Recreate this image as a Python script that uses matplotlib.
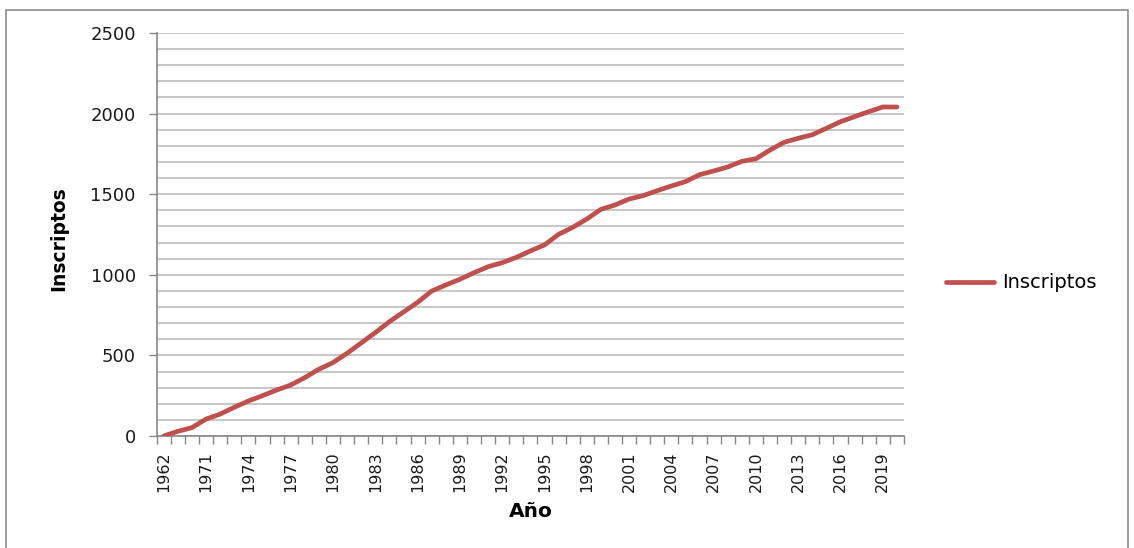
import numpy as np
import matplotlib
matplotlib.use("Agg")
import matplotlib.pyplot as plt
from matplotlib.patches import Rectangle

# Inscriptos acumulados por año
years = ["1962", "1965", "1968"] + [str(y) for y in range(1971, 2021)]
inscriptos = [0, 29, 52, 105, 136, 178, 217, 250, 285, 316,
              362, 414, 455, 513, 577, 641, 709, 769, 829, 899,
              937, 972, 1013, 1050, 1075, 1108, 1148, 1185, 1251, 1294,
              1346, 1406, 1433, 1470, 1491, 1522, 1551, 1578, 1621, 1644,
              1669, 1704, 1720, 1774, 1822, 1847, 1869, 1909, 1950, 1981,
              2012, 2041, 2041]

W, H = 1134, 548
fig = plt.figure(figsize=(W / 100, H / 100), dpi=100)
ax = fig.add_axes([156.7 / W, 1 - 436 / H, (904 - 156.7) / W, (436 - 33) / H])

x = np.arange(len(years))
ax.plot(x, inscriptos, color="#C0504D", lw=3.4, solid_capstyle="round",
        solid_joinstyle="round", label="Inscriptos", zorder=3)

ax.set_xlim(-0.5, len(years) - 0.5)
ax.set_ylim(0, 2500)

# y: labels every 500, gridlines every 100
ax.set_yticks(np.arange(0, 2501, 500))
ax.set_yticks(np.arange(0, 2501, 100), minor=True)
ax.grid(True, which="both", axis="y", color="#BEBEBE", lw=1.2, zorder=0)
ax.tick_params(axis="y", which="major", length=6, width=1, color="#868686",
               pad=9, labelsize=13, labelcolor="#1a1a1a")
ax.tick_params(axis="y", which="minor", length=0)

# x: category boundaries get tick marks, every third category gets a label
ax.set_xticks(x[::3])
ax.set_xticklabels(years[::3], rotation=90, va="top", ha="center")
ax.set_xticks(np.arange(-0.5, len(years)), minor=True)
ax.tick_params(axis="x", which="major", length=0, pad=11, labelsize=11.5,
               labelcolor="#1a1a1a")
ax.tick_params(axis="x", which="minor", length=6, width=1, color="#868686")

for side in ("top", "right"):
    ax.spines[side].set_visible(False)
for side in ("left", "bottom"):
    ax.spines[side].set_color("#868686")
    ax.spines[side].set_linewidth(1.2)

ax.set_ylabel("Inscriptos", fontsize=13.5, fontweight="bold")
ax.yaxis.set_label_coords(-0.118, 0.49)
ax.set_xlabel("Año", fontsize=14.5, fontweight="bold")
ax.xaxis.set_label_coords(0.5, -0.165)

ax.legend(loc="center left", bbox_to_anchor=(928 / W, 1 - 283 / H),
          bbox_transform=fig.transFigure, frameon=False, fontsize=14,
          handlelength=2.5, handletextpad=0.4)

# outer chart frame
fig.patches.append(Rectangle((6 / W, -0.05), (1128 - 6) / W, 1 - 10 / H + 0.05,
                             transform=fig.transFigure, fill=False,
                             edgecolor="#8C8C8C", lw=1.2))

fig.savefig("out.png", dpi=100)
